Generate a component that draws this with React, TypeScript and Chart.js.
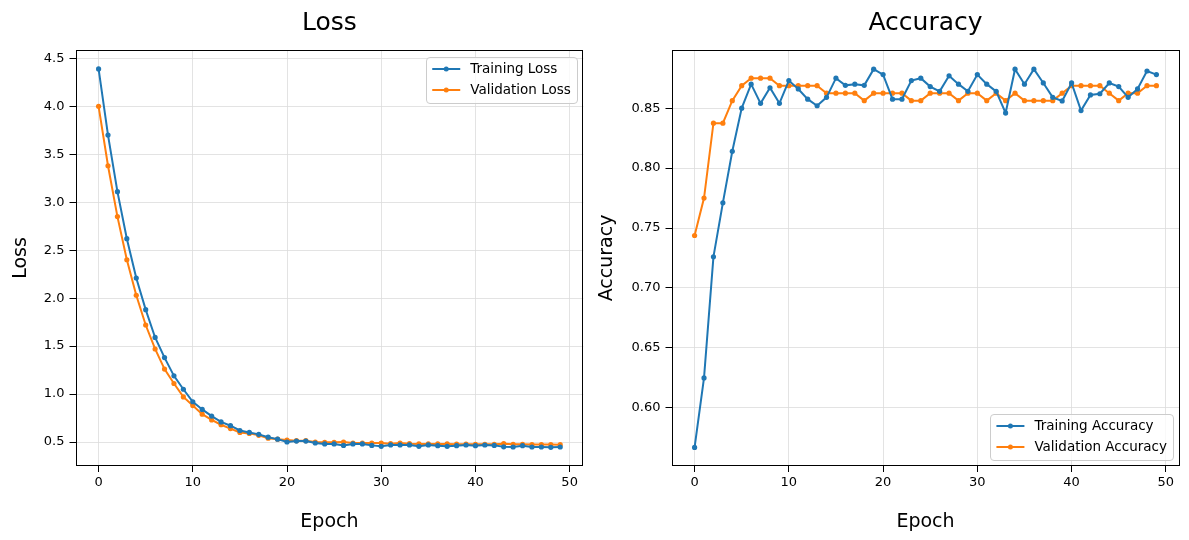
import { useEffect, useRef } from "react";
import { Chart, registerables } from "chart.js";

Chart.register(...registerables);
Chart.defaults.font.family = "'DejaVu Sans', 'Liberation Sans', sans-serif";
Chart.defaults.color = "#000";

// ---- data ----
const epochs = [
  0, 1, 2, 3, 4, 5, 6, 7, 8, 9, 10, 11, 12, 13, 14, 15, 16, 17, 18, 19, 20, 21, 22, 23, 24,
  25, 26, 27, 28, 29, 30, 31, 32, 33, 34, 35, 36, 37, 38, 39, 40, 41, 42, 43, 44, 45, 46, 47, 48, 49,
];

const trainLoss = [
  4.39, 3.7, 3.11, 2.62, 2.21, 1.88, 1.59, 1.38, 1.19, 1.05, 0.92, 0.84, 0.77, 0.71, 0.67, 0.62,
  0.6, 0.58, 0.55, 0.53, 0.5, 0.51, 0.51, 0.49, 0.48, 0.48, 0.465, 0.48, 0.48, 0.465, 0.455, 0.47,
  0.47, 0.47, 0.455, 0.47, 0.462, 0.455, 0.462, 0.469, 0.462, 0.469, 0.465, 0.45, 0.448, 0.462,
  0.448, 0.448, 0.445, 0.448,
];

const valLoss = [
  4.0, 3.38, 2.85, 2.4, 2.03, 1.72, 1.47, 1.26, 1.11, 0.97, 0.88, 0.79, 0.73, 0.68, 0.64, 0.6,
  0.59, 0.57, 0.54, 0.53, 0.52, 0.514, 0.514, 0.5, 0.497, 0.497, 0.5, 0.49, 0.49, 0.49, 0.49,
  0.483, 0.49, 0.483, 0.48, 0.48, 0.48, 0.48, 0.478, 0.478, 0.476, 0.476, 0.476, 0.483, 0.476,
  0.476, 0.474, 0.474, 0.474, 0.472,
];

const trainAcc = [
  0.567, 0.625, 0.726, 0.771, 0.814, 0.85, 0.87, 0.854, 0.867, 0.854, 0.873, 0.866, 0.8575, 0.852,
  0.859, 0.875, 0.869, 0.87, 0.869, 0.8825, 0.878, 0.8575, 0.8575, 0.873, 0.875, 0.868, 0.864,
  0.877, 0.87, 0.864, 0.878, 0.87, 0.864, 0.846, 0.8825, 0.87, 0.8825, 0.871, 0.859, 0.856, 0.871,
  0.848, 0.861, 0.862, 0.871, 0.868, 0.859, 0.866, 0.881, 0.878,
];

const valAcc = [
  0.74375, 0.775, 0.8375, 0.8375, 0.85625, 0.86875, 0.875, 0.875, 0.875, 0.86875, 0.86875,
  0.86875, 0.86875, 0.86875, 0.8625, 0.8625, 0.8625, 0.8625, 0.85625, 0.8625, 0.8625, 0.8625,
  0.8625, 0.85625, 0.85625, 0.8625, 0.8625, 0.8625, 0.85625, 0.8625, 0.8625, 0.85625, 0.8625,
  0.85625, 0.8625, 0.85625, 0.85625, 0.85625, 0.85625, 0.8625, 0.86875, 0.86875, 0.86875,
  0.86875, 0.8625, 0.85625, 0.8625, 0.8625, 0.86875, 0.86875,
];

const epochTicks = [0, 10, 20, 30, 40, 50];
const lossTicks = [0.5, 1.0, 1.5, 2.0, 2.5, 3.0, 3.5, 4.0, 4.5];
const accTicks = [0.6, 0.65, 0.7, 0.75, 0.8, 0.85];

const BLUE = "#1f77b4";
const ORANGE = "#ff7f0e";
const GRID = "#dcdcdc";

// black box around the plotting area
const framePlugin = {
  id: "frame",
  afterDatasetsDraw(chart: any) {
    const { ctx, chartArea } = chart;
    ctx.save();
    ctx.strokeStyle = "#000";
    ctx.lineWidth = 1;
    const l = Math.round(chartArea.left) + 0.5;
    const t = Math.round(chartArea.top) + 0.5;
    const r = Math.round(chartArea.right) - 0.5;
    const b = Math.round(chartArea.bottom) - 0.5;
    ctx.strokeRect(l, t, r - l, b - t);
    ctx.restore();
  },
};

// framed legend placed inside the plotting area
const boxLegendPlugin = {
  id: "boxLegend",
  afterDatasetsDraw(chart: any, _args: any, opts: any) {
    const { ctx, chartArea } = chart;
    const items = chart.data.datasets;
    ctx.save();
    ctx.font = "13.5px 'DejaVu Sans', sans-serif";
    const pad = 6;
    const handle = 28;
    const gap = 10;
    const rowGap = 21;
    const firstRow = 12.5;
    const inset = 6.5;
    const textW = Math.max(...items.map((d: any) => ctx.measureText(d.label).width));
    const w = pad + handle + gap + textW + pad;
    const h = firstRow * 2 + rowGap * (items.length - 1);
    const x = chartArea.right - inset - w;
    const y = opts.corner === "lower right" ? chartArea.bottom - inset - h : chartArea.top + inset;
    ctx.beginPath();
    ctx.roundRect(Math.round(x) + 0.5, Math.round(y) + 0.5, Math.round(w), Math.round(h), 3.5);
    ctx.fillStyle = "rgba(255,255,255,0.8)";
    ctx.fill();
    ctx.strokeStyle = "#cccccc";
    ctx.lineWidth = 1;
    ctx.stroke();
    items.forEach((d: any, i: number) => {
      const cy = y + firstRow + i * rowGap;
      ctx.strokeStyle = d.borderColor;
      ctx.lineWidth = 2;
      ctx.beginPath();
      ctx.moveTo(x + pad, cy);
      ctx.lineTo(x + pad + handle, cy);
      ctx.stroke();
      ctx.fillStyle = d.borderColor;
      ctx.beginPath();
      ctx.arc(x + pad + handle / 2, cy, 2.5, 0, Math.PI * 2);
      ctx.fill();
      ctx.fillStyle = "#000";
      ctx.textBaseline = "middle";
      ctx.textAlign = "left";
      ctx.fillText(d.label, x + pad + handle + gap, cy);
    });
    ctx.restore();
  },
};

type PanelSpec = {
  title: string;
  yLabel: string;
  trainLabel: string;
  valLabel: string;
  train: number[];
  val: number[];
  yMin: number;
  yMax: number;
  yTicks: number[];
  decimals: number;
  corner: string;
  axisWidth: number;
  rightPad: number;
  yTitlePad: number;
};

function series(values: number[]) {
  return epochs.map((e, i) => ({ x: e, y: values[i] }));
}

function lineDataset(label: string, values: number[], color: string) {
  return {
    label,
    data: series(values),
    borderColor: color,
    backgroundColor: color,
    borderWidth: 2,
    pointRadius: 2.6,
    pointBorderWidth: 0,
    pointHoverRadius: 0,
    tension: 0,
  };
}

function buildConfig(p: PanelSpec): any {
  return {
    type: "line",
    data: {
      datasets: [
        lineDataset(p.trainLabel, p.train, BLUE),
        lineDataset(p.valLabel, p.val, ORANGE),
      ],
    },
    options: {
      responsive: false,
      animation: false,
      events: [],
      layout: { padding: { left: 0, right: p.rightPad, top: 0, bottom: 0 } },
      plugins: {
        legend: { display: false },
        tooltip: { enabled: false },
        title: {
          display: true,
          fullSize: false,
          text: p.title,
          color: "#000",
          font: { size: 25, weight: "normal" },
          padding: { top: 8.5, bottom: 11.5 },
        },
        boxLegend: { corner: p.corner },
      },
      scales: {
        x: {
          type: "linear",
          min: -2.45,
          max: 51.45,
          afterBuildTicks: (s: any) => {
            s.ticks = epochTicks.map((v) => ({ value: v }));
          },
          afterFit: (s: any) => {
            s.height = 74;
          },
          border: { display: false },
          grid: { color: GRID, lineWidth: 0.8, tickColor: "#000", tickLength: 6, tickWidth: 1 },
          ticks: {
            color: "#000",
            font: { size: 13 },
            padding: 3,
            maxRotation: 0,
            callback: (v: any) => String(v),
          },
          title: {
            display: true,
            text: "Epoch",
            color: "#000",
            font: { size: 19 },
            padding: { top: 0, bottom: 7 },
          },
        },
        y: {
          type: "linear",
          min: p.yMin,
          max: p.yMax,
          afterBuildTicks: (s: any) => {
            s.ticks = p.yTicks.map((v) => ({ value: v }));
          },
          afterFit: (s: any) => {
            s.width = p.axisWidth;
          },
          border: { display: false },
          grid: { color: GRID, lineWidth: 0.8, tickColor: "#000", tickLength: 6, tickWidth: 1 },
          ticks: {
            color: "#000",
            font: { size: 13 },
            padding: 5,
            callback: (v: any) => Number(v).toFixed(p.decimals),
          },
          title: {
            display: true,
            text: p.yLabel,
            color: "#000",
            font: { size: 19 },
            padding: { top: p.yTitlePad, bottom: 0 },
          },
        },
      },
    },
    plugins: [framePlugin, boxLegendPlugin],
  };
}

const lossPanel: PanelSpec = {
  title: "Loss",
  yLabel: "Loss",
  trainLabel: "Training Loss",
  valLabel: "Validation Loss",
  train: trainLoss,
  val: valLoss,
  yMin: 0.25,
  yMax: 4.587,
  yTicks: lossTicks,
  decimals: 1,
  corner: "upper right",
  axisWidth: 75.5,
  rightPad: 10.7,
  yTitlePad: 9.5,
};

const accPanel: PanelSpec = {
  title: "Accuracy",
  yLabel: "Accuracy",
  trainLabel: "Training Accuracy",
  valLabel: "Validation Accuracy",
  train: trainAcc,
  val: valAcc,
  yMin: 0.5515,
  yMax: 0.8985,
  yTicks: accTicks,
  decimals: 2,
  corner: "lower right",
  axisWidth: 77.5,
  rightPad: 9.5,
  yTitlePad: 2,
};

function Panel({ spec, left, width }: { spec: PanelSpec; left: number; width: number }) {
  const ref = useRef<HTMLCanvasElement>(null);
  useEffect(() => {
    const chart = new Chart(ref.current as HTMLCanvasElement, buildConfig(spec));
    return () => chart.destroy();
  }, [spec]);
  return (
    <canvas
      ref={ref}
      width={width}
      height={540}
      style={{ position: "absolute", left, top: 0, width, height: 540 }}
    />
  );
}

export default function App() {
  return (
    <div
      style={{
        position: "absolute",
        left: 0,
        top: 0,
        width: 1189,
        height: 540,
        background: "#fff",
        overflow: "hidden",
      }}
    >
      <Panel spec={lossPanel} left={0} width={594} />
      <Panel spec={accPanel} left={594} width={595} />
    </div>
  );
}
